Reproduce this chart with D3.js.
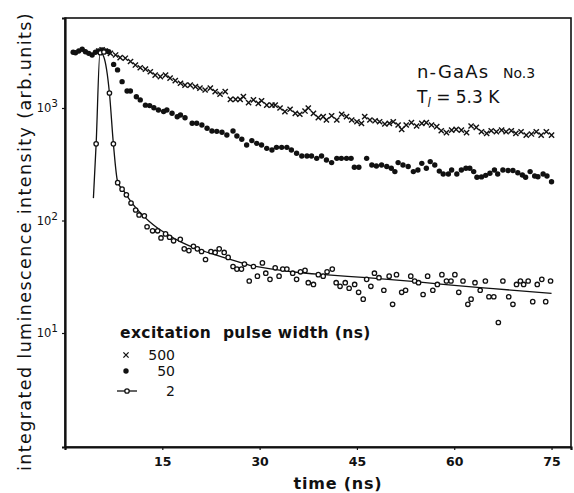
<!DOCTYPE html>
<html lang="en">
<head>
<meta charset="utf-8">
<title>D3: luminescence decay</title>
<script src="https://d3js.org/d3.v7.min.js"></script>
<style>
body{margin:0;background:#fff;}
svg text{font-family:"DejaVu Sans",sans-serif;fill:#111;}
</style>
</head>
<body>
<script>
// pulse width 500 ns (crosses)
var t500 = [5.2,5.72,6.23,7.0,7.8,8.5,9.3,10.1,10.85,11.6,12.4,13.15,13.9,14.7,15.5,16.2,17.0,17.8,18.5,19.3,20.1,20.8,21.6,22.4,23.15,23.9,24.7,25.5,26.3,27.0,27.5,28.3,29.05,29.8,30.3,31.1,31.9,32.4,33.15,33.9,34.7,35.5,36.2,37.0,37.5,38.3,39.05,39.8,40.3,41.1,41.9,42.65,43.4,44.2,45.0,45.7,46.2,47.0,47.8,48.5,49.3,50.0,50.6,51.35,51.9,52.6,53.4,54.2,55.0,55.7,56.5,57.3,58.0,58.8,59.6,60.3,61.1,61.9,62.6,63.4,64.2,65.0,65.7,66.5,67.3,68.0,68.8,69.5,70.3,71.1,71.9,72.65,73.4,74.2,75.0];
var v500 = [3210,3280,3210,3060,2960,2800,2770,2590,2410,2280,2220,2100,1960,1900,1960,1840,1750,1660,1600,1600,1550,1500,1445,1500,1400,1330,1400,1195,1195,1195,1260,1115,1180,1100,1160,1060,1060,1060,1000,930,975,897,880,940,1000,897,820,837,782,853,782,880,837,782,755,731,837,782,770,755,721,730,755,706,646,706,740,692,731,740,706,682,628,603,637,646,637,603,692,673,615,596,628,615,637,615,628,596,615,575,587,615,575,615,575];

// pulse width 50 ns (filled dots)
var t50 = [1.26,1.62,2.12,2.65,3.15,3.66,4.18,4.69,5.2,5.72,6.23,6.74,7.5,8.1,8.8,9.57,10.08,11.0,11.6,12.4,13.05,13.7,14.4,15.2,15.7,16.5,17.3,17.8,18.5,19.6,20.3,21.1,21.9,22.65,23.4,24.2,24.95,25.9,26.5,27.25,28.0,28.8,29.55,30.3,31.1,31.9,32.6,33.4,34.2,34.9,35.7,36.5,37.3,38.0,38.8,39.55,40.3,41.1,41.9,42.6,43.4,44.1,44.6,45.3,46.5,47.3,48.0,48.8,49.6,50.3,50.85,51.35,52.1,52.9,53.7,54.4,55.0,55.7,56.3,57.0,57.7,58.3,59.1,59.6,60.4,61.1,61.8,62.4,63.0,63.5,64.2,64.85,65.5,66.2,66.7,67.5,68.3,69.05,69.8,70.5,71.0,71.7,72.4,72.9,73.7,74.3,75.0];
var v50 = [3130,3100,3210,3330,3160,3060,2960,3130,3210,3280,3210,3160,2440,2180,1715,1415,1415,1260,1180,1060,1050,1005,960,930,960,897,837,867,820,731,731,706,660,625,620,608,575,625,564,527,469,513,485,469,438,423,447,447,447,423,396,374,374,374,357,374,345,327,357,357,357,357,297,297,357,311,305,311,302,291,272,327,311,302,272,281,322,291,334,311,275,259,259,281,259,281,291,291,272,242,244,252,263,281,259,281,278,278,266,254,242,272,249,245,259,249,221];

// pulse width 2 ns (open circles)
var t2 = [4.8,5.45,6.0,6.85,7.46,8.12,8.8,9.46,10.18,10.89,11.42,12.23,12.65,13.5,14.28,14.8,15.5,16.12,16.74,17.77,18.38,19.1,19.8,20.4,21.05,21.66,22.5,23.15,23.77,24.54,25.15,25.9,26.5,27.2,27.66,28.4,29.05,29.66,30.43,30.95,31.6,32.4,33.0,33.57,34.2,35.1,35.7,36.3,37.0,37.5,38.3,39.05,39.8,40.4,41.2,41.8,42.4,43.2,43.8,44.65,45.26,45.97,46.5,47.15,47.7,48.4,49.15,49.97,50.5,51.1,51.9,52.5,53.3,53.9,54.5,55.2,55.9,56.7,57.4,58.1,58.8,59.5,60.1,60.7,61.35,62.1,62.6,63.2,64.0,64.8,65.35,66.1,66.8,67.5,68.4,69.05,69.6,70.2,70.7,71.4,72.1,72.8,73.5,74.1,74.85];
var v2 = [480,3100,3150,1360,480,217,190,169,143,124,112,110,88,81,81,70,76,71,66,68,56,54,59,56,53,45,53,52,56,52,47,39,37,37,41,29,39,32,42,34,30,38,32,37,37,34,30,35,36,28,27,33,32,35,37,28,26,28,25,27,23,20,30,26,34,31,24,32,18,33,23,24,32,29,28,22,32,24,27,33,29,29,33,23,29,18,20,28,24,29,21,21,12.4,29,21,18,27,29,27,29,19,27,30,19,29];

// solid line through the 2 ns data (rise, peak and fitted decay)
var fitT = [4.38,4.8,5.4,5.97,6.85,7.46,8.12,9,10,11,12,13,14,16,18,20,22,25,28.5,32,36,40,46.5,54,60,66,75];
var fitV = [158,480,3150,2860,1360,480,220,185,152,128,111,98,88,74,64,57,52,46,40,37,34.5,33,31,28.6,26.5,24.8,22.5];

var xTicks = [15,30,45,60,75];
var yTicks = [10,100,1000];
var legendLabels = ["500","50","2"];

var ink = "#111";
var margin = {top: 18, right: 3, bottom: 46, left: 65},
	width = 574 - margin.left - margin.right,
	height = 493 - margin.top - margin.bottom;

var root = d3.select("body").append("svg")
	.attr("width", 574)
	.attr("height", 493);
var svg = root.append("g")
	.attr("transform", "translate(" + margin.left + "," + margin.top + ")");

var x = d3.scaleLinear().domain([0, 78]).range([0, width]);
var y = d3.scaleLog().domain([Math.pow(10, -0.0133), Math.pow(10, 3.8)]).range([height, 0]);

// frame
svg.append("rect")
	.attr("width", width).attr("height", height)
	.attr("fill", "none").attr("stroke", ink).attr("stroke-width", 1.6);

// x axis
var gx = svg.append("g")
	.attr("transform", "translate(0," + height + ")")
	.call(d3.axisBottom(x).tickValues(xTicks).tickSize(3).tickPadding(7).tickFormat(d3.format("d")));
gx.select(".domain").attr("stroke", ink).attr("stroke-width", 2.2);
gx.selectAll(".tick line").attr("stroke", ink).attr("stroke-width", 1.2);
gx.selectAll("text").attr("font-size", 12.5).attr("font-weight", 600).attr("fill", ink)
	.attr("font-family", "DejaVu Sans");

// y axis, labels written as powers of ten
var gy = svg.append("g")
	.call(d3.axisLeft(y).tickValues(yTicks).tickSize(3).tickFormat(""));
gy.select(".domain").attr("stroke", ink).attr("stroke-width", 2.2);
gy.selectAll(".tick line").attr("stroke", ink).attr("stroke-width", 1.2);
var ylab = svg.append("g").selectAll("text")
	.data(yTicks).enter().append("text")
	.attr("x", -7)
	.attr("y", function(d){ return y(d) + 4; })
	.attr("text-anchor", "end")
	.attr("font-size", 11.5);
ylab.append("tspan").text("10");
ylab.append("tspan").attr("dy", -5).attr("font-size", 10.5)
	.text(function(d){ return Math.round(Math.log10(d)); });

// fitted line through 2 ns data
var line = d3.line()
	.x(function(d){ return x(d[0]); })
	.y(function(d){ return y(d[1]); })
	.curve(d3.curveMonotoneX);
svg.append("path")
	.datum(fitT.map(function(t, i){ return [t, fitV[i]]; }))
	.attr("d", line)
	.attr("fill", "none").attr("stroke", ink).attr("stroke-width", 1.3);

// 500 ns crosses
var cross = "M-2.6,-2.6L2.6,2.6M-2.6,2.6L2.6,-2.6";
svg.append("g").selectAll("path")
	.data(t500).enter().append("path")
	.attr("d", cross)
	.attr("transform", function(d, i){ return "translate(" + x(d) + "," + y(v500[i]) + ")"; })
	.attr("stroke", ink).attr("stroke-width", 1.4);

// 50 ns dots
svg.append("g").selectAll("circle")
	.data(t50).enter().append("circle")
	.attr("cx", function(d){ return x(d); })
	.attr("cy", function(d, i){ return y(v50[i]); })
	.attr("r", 2.7)
	.attr("fill", ink);

// 2 ns open circles
svg.append("g").selectAll("circle")
	.data(t2).enter().append("circle")
	.attr("cx", function(d){ return x(d); })
	.attr("cy", function(d, i){ return y(v2[i]); })
	.attr("r", 2.2)
	.attr("fill", "#fff").attr("stroke", ink).attr("stroke-width", 1.3);

// annotation
root.append("text").attr("x", 417).attr("y", 78)
	.attr("font-size", 18).attr("letter-spacing", 1.2).text("n-GaAs");
root.append("text").attr("x", 503).attr("y", 78)
	.attr("font-size", 14).text("No.3");
var tl = root.append("text").attr("x", 417).attr("y", 103).attr("font-size", 17);
tl.append("tspan").text("T");
tl.append("tspan").attr("dy", 4).attr("font-size", 12).attr("font-style", "italic").text("l");
tl.append("tspan").attr("dy", -4).text(" = 5.3 K");

// legend
root.append("text").attr("x", 120).attr("y", 338)
	.attr("font-size", 15.5).attr("font-weight", 600).attr("letter-spacing", 0.4)
	.attr("xml:space", "preserve")
	.text("excitation  pulse width (ns)");
var ly = [355, 371, 391];
root.append("path").attr("d", cross)
	.attr("transform", "translate(126," + ly[0] + ")").attr("stroke", ink).attr("stroke-width", 1.3);
root.append("circle").attr("cx", 126).attr("cy", ly[1]).attr("r", 2.7).attr("fill", ink);
root.append("line").attr("x1", 117).attr("x2", 137).attr("y1", ly[2]).attr("y2", ly[2])
	.attr("stroke", ink).attr("stroke-width", 1.3);
root.append("circle").attr("cx", 127).attr("cy", ly[2]).attr("r", 2.2)
	.attr("fill", "#fff").attr("stroke", ink).attr("stroke-width", 1.3);
root.append("g").selectAll("text")
	.data(legendLabels).enter().append("text")
	.attr("x", 175)
	.attr("y", function(d, i){ return ly[i] + 5; })
	.attr("text-anchor", "end")
	.attr("font-size", 14)
	.text(function(d){ return d; });

// axis titles
root.append("text")
	.attr("transform", "translate(31," + (margin.top + height / 2 + 9) + ") rotate(-90)")
	.attr("text-anchor", "middle")
	.attr("font-size", 17.5).attr("letter-spacing", 1.4)
	.text("integrated luminescence intensity (arb.units)");
root.append("text")
	.attr("x", 338).attr("y", 489)
	.attr("text-anchor", "middle")
	.attr("font-size", 16).attr("font-weight", 600).attr("letter-spacing", 0.8)
	.text("time (ns)");
</script>
</body>
</html>
